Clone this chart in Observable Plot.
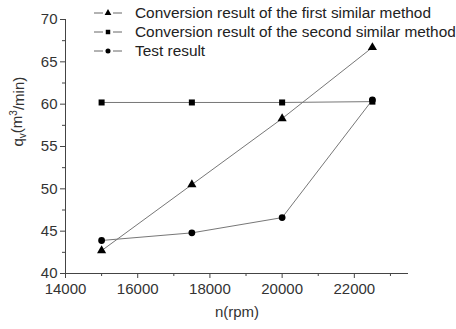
<!DOCTYPE html>
<html><head><meta charset="utf-8">
<script src="https://cdn.jsdelivr.net/npm/d3@7"></script>
<script src="https://cdn.jsdelivr.net/npm/@observablehq/plot@0.6"></script>
<style>body{margin:0;background:#fff}</style>
</head><body><div id="chart"></div>
<script>
const speeds = [15000, 17500, 20000, 22500];
const firstMethod = [42.7, 50.5, 58.3, 66.7];
const secondMethod = [60.2, 60.2, 60.2, 60.3];
const testResult = [43.9, 44.8, 46.6, 60.5];
const seriesNames = ["Conversion result of the first similar method", "Conversion result of the second similar method", "Test result"];
const seriesSymbols = ["triangle", "square", "circle"];
const xTicks = [14000, 16000, 18000, 20000, 22000];
const xMinor = [15000, 17000, 19000, 21000, 23000];
const yTicks = [40, 45, 50, 55, 60, 65, 70];
const yMinor = [42.5, 47.5, 52.5, 57.5, 62.5, 67.5];

const allSeries = [firstMethod, secondMethod, testResult];
const data = allSeries.flatMap((vals, i) => vals.map((v, j) => ({x: speeds[j], y: v, s: seriesNames[i], sym: seriesSymbols[i]})));

const axisColor = "#444";
const font = "'Liberation Sans', Arial, sans-serif";
const plot = Plot.plot({
  width: 456, height: 329,
  marginLeft: 65, marginRight: 48, marginTop: 19, marginBottom: 56,
  style: {fontFamily: font, fontSize: "15px", color: "#333", background: "#fff"},
  x: {domain: [14000, 23500]},
  y: {domain: [40, 70]},
  symbol: {domain: seriesSymbols, range: ["triangle", "square", "circle"]},
  marks: [
    Plot.axisX({ticks: xTicks, tickSize: 5, tickPadding: 5, tickFormat: d => String(d), label: null, stroke: axisColor}),
    Plot.axisX({ticks: xMinor, tickSize: 3, text: null, label: null, stroke: axisColor}),
    Plot.axisY({ticks: yTicks, tickSize: 5, tickPadding: 3, label: null, stroke: axisColor}),
    Plot.axisY({ticks: yMinor, tickSize: 3, text: null, label: null, stroke: axisColor}),
    Plot.ruleY([40], {stroke: axisColor}),
    Plot.ruleX([14000], {stroke: axisColor}),
    Plot.line(data, {x: "x", y: "y", z: "s", stroke: "#777", strokeWidth: 1}),
    Plot.dot(data, {x: "x", y: "y", symbol: "sym", fill: "#000", stroke: "none", r: 3.4}),
    Plot.text(["n(rpm)"], {frameAnchor: "bottom", dy: 43, fill: "#333", fontSize: 15}),
    Plot.text(["q"], {frameAnchor: "left", dx: -47, rotate: -90, fill: "#333", fontSize: 15, className: "ylab"})
  ]
});
document.getElementById("chart").appendChild(plot);

// y label with subscript and superscript
const svg = d3.select(plot);
const yl = svg.select("g.ylab text");
yl.text(null);
yl.append("tspan").text("q");
yl.append("tspan").attr("dy", "0.3em").attr("font-size", "10px").text("v");
yl.append("tspan").attr("dy", "-0.3em").text("(m");
yl.append("tspan").attr("dy", "-0.45em").attr("font-size", "10px").text("3");
yl.append("tspan").attr("dy", "0.45em").text("/min)");

// legend
const lg = svg.append("g").attr("font-family", font).attr("font-size", "15.4px").attr("fill", "#222").attr("text-anchor", "start");
const symGen = {triangle: d3.symbolTriangle, square: d3.symbolSquare, circle: d3.symbolCircle};
seriesNames.forEach((name, i) => {
  const y = 13 + i * 19;
  const row = lg.append("g").attr("transform", `translate(94,${y})`);
  row.append("line").attr("x1", 0).attr("x2", 9).attr("stroke", "#666");
  row.append("line").attr("x1", 19).attr("x2", 28).attr("stroke", "#666");
  row.append("path").attr("transform", "translate(14,0)").attr("d", d3.symbol(symGen[seriesSymbols[i]], 20)()).attr("fill", "#000");
  row.append("text").attr("x", 41).attr("dy", "0.35em").text(name);
});
</script></body></html>
